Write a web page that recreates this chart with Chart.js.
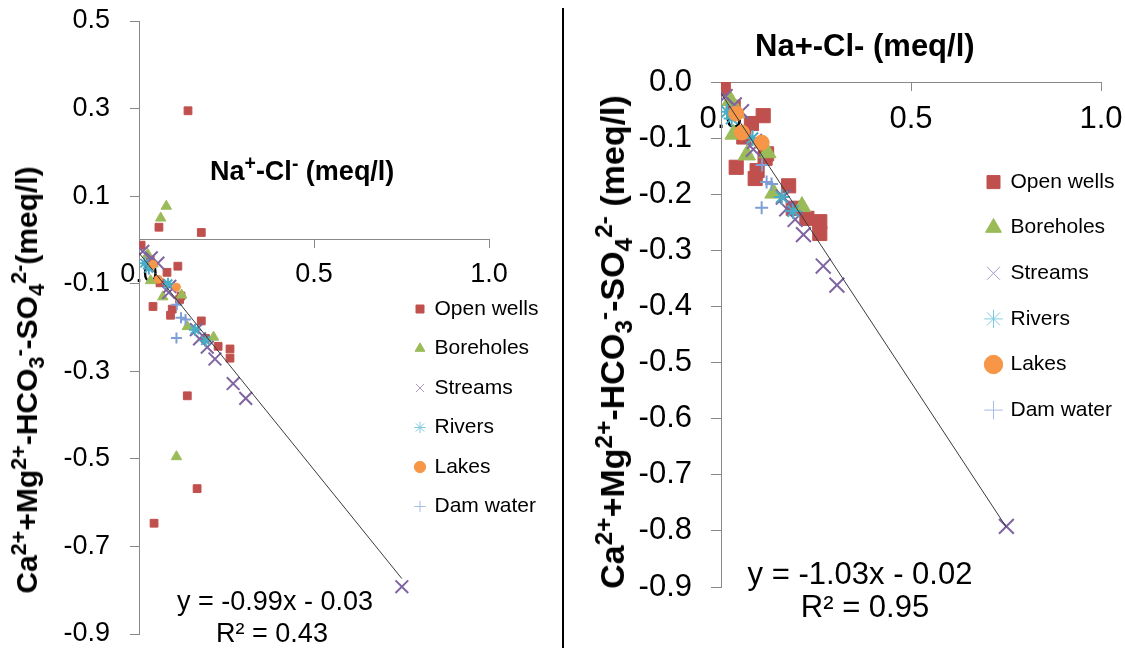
<!DOCTYPE html>
<html>
<head>
<meta charset="utf-8">
<script src="https://cdn.jsdelivr.net/npm/chart.js@4.4.0/dist/chart.umd.min.js"></script>
<style>
  html, body { margin: 0; padding: 0; background: #fff; }
  body { width: 1125px; height: 648px; overflow: hidden; position: relative; font-family: 'Liberation Sans', Arial, sans-serif; color: #000; }
  canvas { position: absolute; }
  #leftChart { left: 0; top: -30px; }
  #rightChart { left: 565px; top: 0; }
  .divider { position: absolute; left: 562px; top: 8px; width: 2px; height: 640px; background: #000; }
  .ytitle { position: absolute; font-weight: bold; white-space: nowrap; line-height: 1; transform: translate(-50%, -50%) rotate(-90deg); }
  .xtitle { position: absolute; font-weight: bold; white-space: nowrap; line-height: 1; }
  .eq { position: absolute; white-space: nowrap; line-height: 1; transform: translate(-50%, -50%); }
  sup, sub { font-size: 0.72em; line-height: 0; }
</style>
</head>
<body>
<canvas id="leftChart" width="560" height="710"></canvas>
<canvas id="rightChart" width="600" height="680"></canvas>
<div class="divider"></div>

<div class="ytitle" style="left:27px; top:380px; font-size:30px;">Ca<sup>2+</sup>+Mg<sup>2+</sup>-HCO<sub>3</sub><sup>-</sup>-SO<sub>4</sub><sup>2-</sup>(meq/l)</div>
<div class="xtitle" style="left:210px; top:158px; font-size:27px;">Na<sup>+</sup>-Cl<sup>-</sup> (meq/l)</div>
<div class="eq" style="left:275px; top:601px; font-size:27px;">y = -0.99x - 0.03</div>
<div class="eq" style="left:272px; top:633px; font-size:27px;">R² = 0.43</div>

<div class="ytitle" style="left:612px; top:342px; font-size:34px;">Ca<sup>2+</sup>+Mg<sup>2+</sup>-HCO<sub>3</sub><sup>-</sup>-SO<sub>4</sub><sup>2-</sup> (meq/l)</div>
<div class="xtitle" style="left:755px; top:30px; font-size:31px;">Na+-Cl- (meq/l)</div>
<div class="eq" style="left:860px; top:573px; font-size:31px;">y = -1.03x - 0.02</div>
<div class="eq" style="left:865px; top:606px; font-size:31px;">R² = 0.95</div>

<script>
// Axis ticks
const xTicks = [0, 0.5, 1];
const leftYTicks = [0.5, 0.3, 0.1, -0.1, -0.3, -0.5, -0.7, -0.9];
const rightYTicks = [0, -0.1, -0.2, -0.3, -0.4, -0.5, -0.6, -0.7, -0.8, -0.9];

const seriesNames = ['Open wells', 'Boreholes', 'Streams', 'Rivers', 'Lakes', 'Dam water'];

// Samples shown in both panels (Na+-Cl-, Ca+Mg-HCO3-SO4 in meq/l)
const openWellsX = [0.006, 0.032, 0.111, 0.080, 0.060, 0.040, 0.095, 0.090, 0.116, 0.120, 0.178, 0.190, 0.226, 0.260, 0.260];
const openWellsY = [-0.012, -0.045, -0.060, -0.074, -0.098, -0.152, -0.158, -0.172, -0.136, -0.128, -0.185, -0.225, -0.243, -0.249, -0.270];
const boreholesX = [0.025, 0.040, 0.033, 0.068, 0.122, 0.138, 0.213];
const boreholesY = [-0.033, -0.055, -0.093, -0.130, -0.126, -0.198, -0.222];
const streamsX = [0.011, 0.035, 0.054, 0.085, 0.088, 0.164, 0.173, 0.195, 0.217, 0.269, 0.305, 0.751];
const streamsY = [-0.026, -0.041, -0.053, -0.120, -0.106, -0.205, -0.226, -0.245, -0.272, -0.328, -0.362, -0.792];
const riversX = [0.016, 0.028, 0.083, 0.160, 0.190];
const riversY = [-0.053, -0.065, -0.100, -0.205, -0.230];
const lakesX = [0.040, 0.055, 0.107];
const lakesY = [-0.056, -0.090, -0.108];
const damX = [0.108, 0.120, 0.133, 0.107];
const damY = [-0.148, -0.178, -0.182, -0.224];

// Extra samples only in the left panel
const extraWellsX = [0.140, 0.057, 0.178, 0.138, 0.166, 0.043];
const extraWellsY = [0.295, 0.029, 0.017, -0.356, -0.568, -0.647];
const extraBoreX = [0.078, 0.062, 0.107];
const extraBoreY = [0.077, 0.050, -0.495];

// Trend lines
const leftFit = { slope: -0.99, intercept: -0.03 };
const rightFit = { slope: -1.03, intercept: -0.02 };
const fitRange = [0, 0.751];

const colors = ['#C0504D', '#9BBB59', '#8064A2', '#4BACC6', '#F79646', '#7F9ED6'];
const legendStroke = ['#C0504D', '#9BBB59', '#A999C8', '#7FCBDE', '#F79646', '#A6BCE3'];
const styles = ['rect', 'triangle', 'crossRot', 'star', 'circle', 'cross'];
const axisColor = '#888888';

Chart.defaults.font.family = "'Liberation Sans', Arial, sans-serif";
Chart.defaults.color = '#000';

function pts(xs, ys) {
    return xs.map((x, i) => ({ x: x, y: ys[i] }));
}

// moves the legend box to a fixed spot inside the plot
const legendPos = {
    id: 'legendPos',
    afterLayout(chart, args, opts) {
        const lg = chart.legend;
        if (!lg) return;
        const w = lg.width, h = lg.height;
        lg.left = opts.x; lg.top = opts.y;
        lg.right = opts.x + w; lg.bottom = opts.y + h;
    }
};

function buildDatasets(sizes, wide, withExtra, fit) {
    const xs = [openWellsX, boreholesX, streamsX, riversX, lakesX, damX];
    const ys = [openWellsY, boreholesY, streamsY, riversY, lakesY, damY];
    const sets = seriesNames.map((name, i) => {
        let data = pts(xs[i], ys[i]);
        if (withExtra && i === 0) data = data.concat(pts(extraWellsX, extraWellsY));
        if (withExtra && i === 1) data = data.concat(pts(extraBoreX, extraBoreY));
        const lineStyle = (i === 2 || i === 3 || i === 5);
        return {
            label: name,
            data: data,
            pointStyle: styles[i],
            pointRadius: sizes[i],
            backgroundColor: colors[i],
            borderColor: colors[i],
            pointBorderWidth: lineStyle ? wide : 1,
            showLine: false,
            order: 10 - i
        };
    });
    sets.push({
        label: 'fit',
        data: fitRange.map(x => ({ x: x, y: fit.slope * x + fit.intercept })),
        showLine: true,
        borderColor: '#3a3a3a',
        borderWidth: 1,
        pointRadius: 0,
        order: 1
    });
    return sets;
}

function buildScales(o) {
    return {
        x: {
            type: 'linear', min: 0, max: 1,
            position: { y: 0 },
            afterBuildTicks: s => { s.ticks = xTicks.map(v => ({ value: v })); },
            border: { display: true, color: axisColor, width: 1 },
            grid: { display: true, drawOnChartArea: false, drawTicks: true, tickLength: 8, tickColor: axisColor },
            ticks: { autoSkip: false, maxRotation: 0, padding: o.xPad, font: { size: o.fs }, color: '#000', callback: v => Number(v).toFixed(1) }
        },
        y: {
            type: 'linear', min: o.ymin, max: o.ymax, position: 'left',
            afterBuildTicks: s => { s.ticks = o.yTicks.map(v => ({ value: v })); },
            afterFit: s => { s.width = o.yw; },
            border: { display: true, color: axisColor, width: 1 },
            grid: { display: true, drawOnChartArea: false, drawTicks: true, tickLength: o.ytl, tickColor: axisColor },
            ticks: { autoSkip: false, padding: o.yPad, font: { size: o.fs }, color: '#000', callback: v => Number(v).toFixed(1) }
        }
    };
}

function legendOpts(box, pad) {
    return {
        display: true,
        position: 'chartArea',
        align: 'start',
        labels: {
            usePointStyle: true,
            boxWidth: box, boxHeight: box,
            padding: pad,
            font: { size: 21 },
            color: '#000',
            sort: (a, b) => a.datasetIndex - b.datasetIndex,
            filter: it => it.datasetIndex < 6,
            generateLabels: chart => Chart.defaults.plugins.legend.labels.generateLabels(chart).map(it => {
                const i = it.datasetIndex;
                if (i === 2 || i === 3 || i === 5) {
                    it.lineWidth = 1;
                    it.strokeStyle = legendStroke[i];
                }
                return it;
            })
        }
    };
}

// Left panel: all samples (canvas shifted up 30px)
new Chart(document.getElementById('leftChart'), {
    type: 'scatter',
    data: { datasets: buildDatasets([5.5, 6, 9, 6, 4, 5.5], 2, true, leftFit) },
    options: {
        responsive: false,
        animation: false,
        layout: { padding: { left: 0, top: 51, right: 71, bottom: 46 } },
        scales: buildScales({ ymin: -0.9, ymax: 0.5, yTicks: leftYTicks, yw: 139, ytl: 9, yPad: 20, xPad: 10, fs: 27 }),
        plugins: {
            legend: legendOpts(8, 18.5),
            legendPos: { x: 397.5, y: 310 },
            tooltip: { enabled: false }
        }
    },
    plugins: [legendPos]
});

// Right panel: without outliers
new Chart(document.getElementById('rightChart'), {
    type: 'scatter',
    data: { datasets: buildDatasets([10, 10, 10.5, 8, 7.5, 6.5], 2, false, rightFit) },
    options: {
        responsive: false,
        animation: false,
        layout: { padding: { left: 0, top: 82, right: 64, bottom: 93 } },
        scales: buildScales({ ymin: -0.9, ymax: 0, yTicks: rightYTicks, yw: 156, ytl: 10, yPad: 19, xPad: 11, fs: 31 }),
        plugins: {
            legend: legendOpts(13, 24.6),
            legendPos: { x: 397.4, y: 147 },
            tooltip: { enabled: false }
        }
    },
    plugins: [legendPos]
});
</script>
</body>
</html>
